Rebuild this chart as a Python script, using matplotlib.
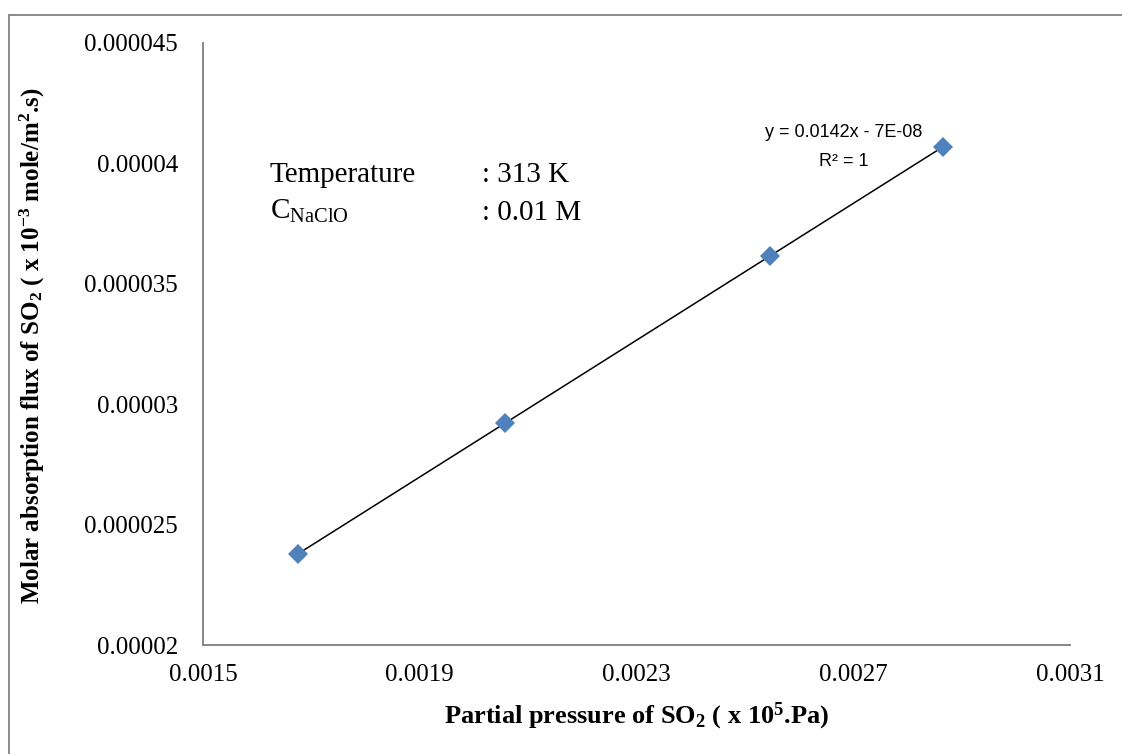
import numpy as np
import matplotlib
matplotlib.use("Agg")
import matplotlib.pyplot as plt
from matplotlib.lines import Line2D
from matplotlib.ticker import FixedLocator, FuncFormatter

# data
pressure = [0.001675, 0.002057, 0.002546, 0.002865]   # x 10^5 Pa
flux = [2.377e-5, 2.922e-5, 3.616e-5, 4.067e-5]        # x 10^-3 mole/m2.s
x_ticks = [0.0015, 0.0019, 0.0023, 0.0027, 0.0031]
y_ticks = [0.00002, 0.000025, 0.00003, 0.000035, 0.00004, 0.000045]
fit_text = "y = 0.0142x - 7E-08\nR² = 1"

plt.rcParams["font.family"] = ["Liberation Serif", "DejaVu Serif"]
plt.rcParams["mathtext.fontset"] = "custom"
plt.rcParams["mathtext.rm"] = "Liberation Serif"
plt.rcParams["mathtext.it"] = "Liberation Serif:italic"
plt.rcParams["mathtext.bf"] = "Liberation Serif:bold"

W, H = 1122, 754
fig = plt.figure(figsize=(W / 100, H / 100), dpi=100)
ax = fig.add_axes([203 / W, 1 - 645 / H, (1070 - 203) / W, (645 - 43) / H])


def px(x, y):
    # pixel position (from top-left) -> figure fraction
    return x / W, 1 - y / H


# outer frame (only left and top visible)
fig.add_artist(Line2D([9 / W, 9 / W], [0, 1 - 15 / H], transform=fig.transFigure,
                      color="#8a8a8a", lw=1.4))
fig.add_artist(Line2D([9 / W, 1], [1 - 15 / H, 1 - 15 / H], transform=fig.transFigure,
                      color="#8a8a8a", lw=1.4))

# linear trendline over the data range
slope, intercept = np.polyfit(pressure, flux, 1)
xs = np.array([min(pressure), max(pressure)])
ax.plot(xs, slope * xs + intercept, color="black", lw=1.1, zorder=2)
ax.plot(pressure, flux, "D", color="#4F81BD", markersize=10, markeredgewidth=0, zorder=3)

ax.set_xlim(x_ticks[0], x_ticks[-1])
ax.set_ylim(y_ticks[0], y_ticks[-1])
ax.xaxis.set_major_locator(FixedLocator(x_ticks))
ax.yaxis.set_major_locator(FixedLocator(y_ticks))
ax.xaxis.set_major_formatter(FuncFormatter(lambda v, p: f"{v:.4f}"))
ax.yaxis.set_major_formatter(FuncFormatter(lambda v, p: f"{v:.6f}".rstrip("0")))
ax.tick_params(axis="both", length=0, labelsize=18)
ax.tick_params(axis="y", pad=18)
ax.tick_params(axis="x", pad=14)

for side in ("top", "right"):
    ax.spines[side].set_visible(False)
for side in ("left", "bottom"):
    ax.spines[side].set_color("#868686")
    ax.spines[side].set_linewidth(1.4)

ax.set_xlabel(r"Partial pressure of SO$_\mathbf{2}$ ( x 10$^\mathbf{5}$.Pa)",
              fontsize=19, fontweight="bold", labelpad=10)
ax.set_ylabel(r"Molar absorption flux of SO$_\mathbf{2}$ ( x 10$^{\mathbf{-3}}$ mole/m$^\mathbf{2}$.s)",
              fontsize=18, fontweight="bold")
ax.yaxis.set_label_coords(*px(47, 346), transform=fig.transFigure)

# condition box
fig.text(*px(270, 175), "Temperature", fontsize=21, va="center")
fig.text(*px(482, 175), ": 313 K", fontsize=21, va="center")
fig.text(*px(270, 211), r"C$_{\mathrm{NaClO}}$", fontsize=21, va="center")
fig.text(*px(482, 213), ": 0.01 M", fontsize=21, va="center")

fig.text(*px(844, 147), fit_text, fontsize=13, ha="center", va="center",
         family=["Liberation Sans", "DejaVu Sans"], linespacing=1.95)

fig.savefig("out.png", dpi=100)
